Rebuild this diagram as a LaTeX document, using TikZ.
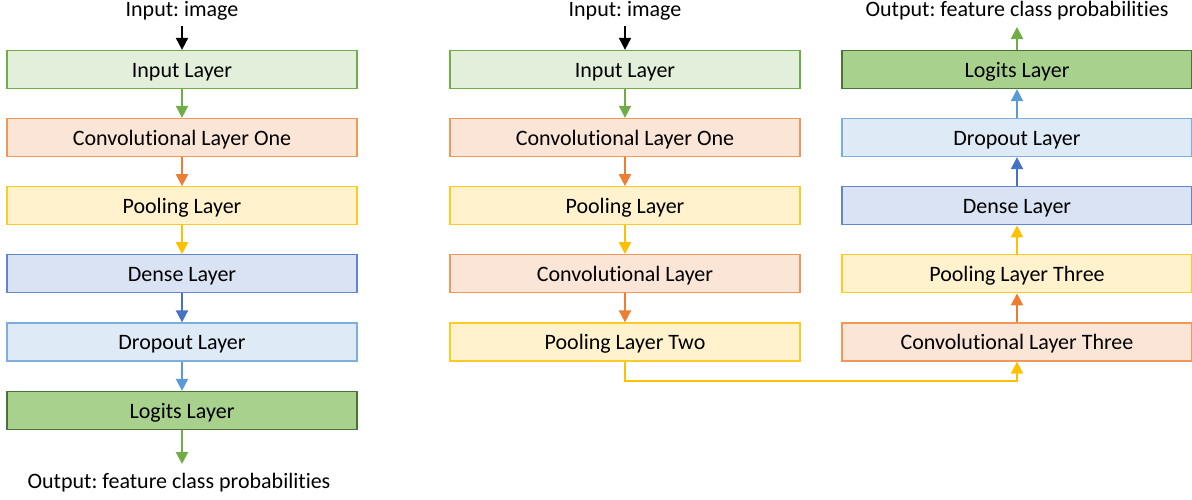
\documentclass[tikz,border=0pt]{standalone}
\usepackage{fontspec}
\setmainfont{Carlito}[Ligatures=CommonOff]
\frenchspacing
\usetikzlibrary{arrows.meta}
\definecolor{gfill}{HTML}{E2EFDA}\definecolor{gline}{HTML}{70AD47}
\definecolor{ofill}{HTML}{FBE5D6}\definecolor{oline}{HTML}{ED7D31}
\definecolor{yfill}{HTML}{FFF2CC}\definecolor{yline}{HTML}{FFC000}
\definecolor{bfill}{HTML}{DAE3F3}\definecolor{bline}{HTML}{4472C4}
\definecolor{lbfill}{HTML}{DEEBF7}\definecolor{lbline}{HTML}{5B9BD5}
\definecolor{lgfill}{HTML}{A9D18E}\definecolor{lgline}{HTML}{4E7236}
\tikzset{
  layer/.style={draw, line width=1.3pt, minimum width=350pt, minimum height=38pt, inner sep=0pt, text height=15pt, text depth=0pt, font=\fontsize{22}{24}\selectfont},
  inl/.style={layer, fill=gfill, draw=gline},
  conv/.style={layer, fill=ofill, draw=oline!80},
  pool/.style={layer, fill=yfill, draw=yline!85},
  dense/.style={layer, fill=bfill, draw=bline!85},
  drop/.style={layer, fill=lbfill, draw=lbline!80},
  logit/.style={layer, fill=lgfill, draw=lgline},
  lbl/.style={inner sep=0pt, anchor=base, font=\fontsize{22}{24}\selectfont},
  conn/.style={line width=2pt, -{Triangle[length=12pt,width=12pt]}},
}
\begin{document}
\begin{tikzpicture}[x=1pt,y=-1pt]
\useasboundingbox (0,0) rectangle (1192,499);
% left column
\node[lbl] (tinA) at (182,16.7) {Input: image};
\node[inl]   (a1) at (182,69.5) {Input Layer};
\node[conv]  (a2) at (182,137.5) {Convolutional Layer One};
\node[pool]  (a3) at (182,205.8) {Pooling Layer};
\node[dense] (a4) at (182,273.8) {Dense Layer};
\node[drop]  (a5) at (182,342) {Dropout Layer};
\node[logit] (a6) at (182,410.5) {Logits Layer};
\node[lbl] (toutA) at (179,488.3) {Output: feature class probabilities};
\coordinate (ainA) at (182,26);
\coordinate (aoutA) at (182,464);
\draw[conn, black] (ainA) -- (a1.north);
\draw[conn, gline] (a1) -- (a2);
\draw[conn, oline] (a2) -- (a3);
\draw[conn, yline] (a3) -- (a4);
\draw[conn, bline] (a4) -- (a5);
\draw[conn, lbline] (a5) -- (a6);
\draw[conn, gline] (a6.south) -- (aoutA);
% middle column
\node[lbl] (tinB) at (625,16.7) {Input: image};
\node[inl]  (b1) at (625,69.5) {Input Layer};
\node[conv] (b2) at (625,137.5) {Convolutional Layer One};
\node[pool] (b3) at (625,205.8) {Pooling Layer};
\node[conv] (b4) at (625,273.8) {Convolutional Layer};
\node[pool] (b5) at (625,342) {Pooling Layer Two};
\coordinate (ainB) at (625,26);
\draw[conn, black] (ainB) -- (b1.north);
\draw[conn, gline] (b1) -- (b2);
\draw[conn, oline] (b2) -- (b3);
\draw[conn, yline] (b3) -- (b4);
\draw[conn, oline] (b4) -- (b5);
% right column
\node[lbl] (toutC) at (1017,16.7) {Output: feature class probabilities};
\node[logit] (c6) at (1017,69.5) {Logits Layer};
\node[drop]  (c5) at (1017,137.5) {Dropout Layer};
\node[dense] (c4) at (1017,205.8) {Dense Layer};
\node[pool]  (c3) at (1017,273.8) {Pooling Layer Three};
\node[conv]  (c2) at (1017,342) {Convolutional Layer Three};
\coordinate (aoutC) at (1017,27);
\draw[conn, yline] (b5.south) -- ++(0,19) -| (c2.south);
\draw[conn, oline] (c2) -- (c3);
\draw[conn, yline] (c3) -- (c4);
\draw[conn, bline] (c4) -- (c5);
\draw[conn, lbline] (c5) -- (c6);
\draw[conn, gline] (c6.north) -- (aoutC);
\end{tikzpicture}
\end{document}
